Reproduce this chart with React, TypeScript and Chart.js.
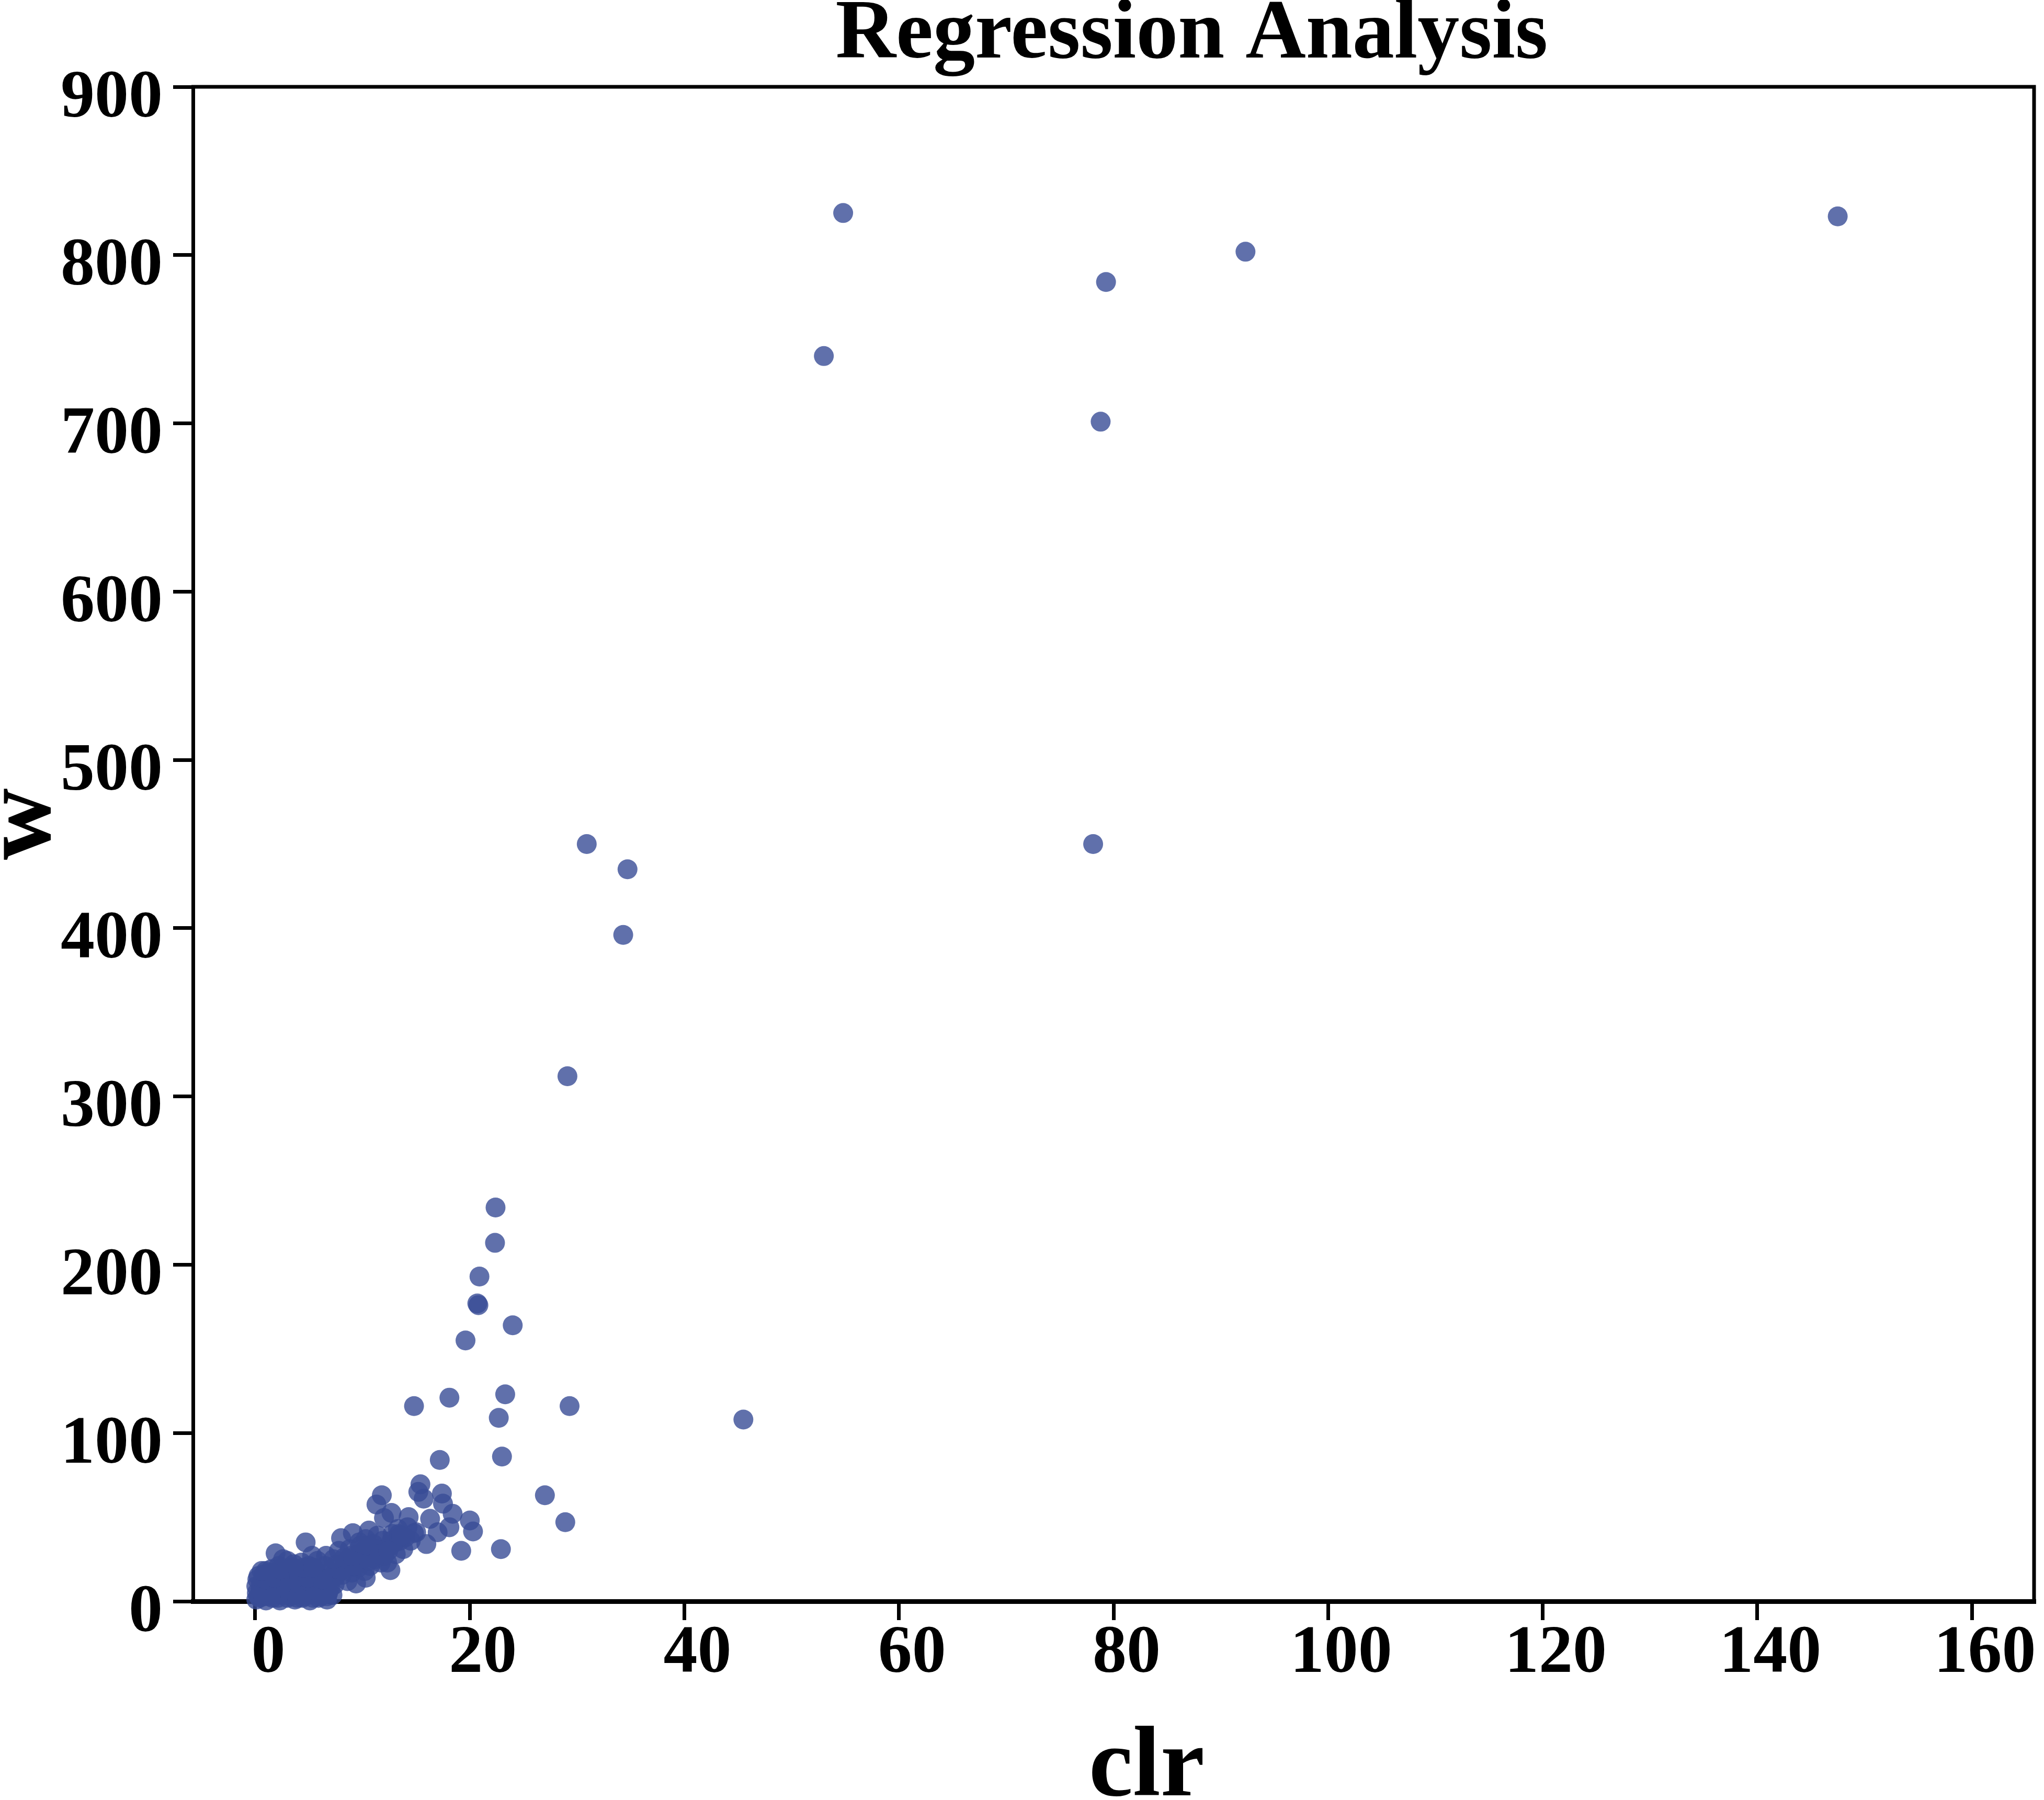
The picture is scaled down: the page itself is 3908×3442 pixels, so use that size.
import React, { useEffect, useRef } from "react";
import { Chart, registerables } from "chart.js";

Chart.register(...registerables);

const CHART_TITLE = "Regression Analysis";
const X_TITLE = "clr";
const Y_TITLE = "w";

const X_TICKS = [0, 20, 40, 60, 80, 100, 120, 140, 160];
const Y_TICKS = [0, 100, 200, 300, 400, 500, 600, 700, 800, 900];

// Far outliers
const clrOutliers = [147.5, 54.8, 53.0, 92.3, 79.3, 78.8, 78.1, 30.9, 34.7, 34.3, 29.1, 45.5, 29.3, 27.0, 28.9];
const wOutliers = [823, 825, 740, 802, 784, 701, 450, 450, 435, 396, 312, 108, 116, 63, 47];

// Middle scattered points
const clrMid = [22.4, 22.35, 20.9, 20.8, 20.7, 24.0, 19.6, 18.1, 14.8, 23.3, 22.7, 17.2, 23.0, 22.9, 19.2,
  15.4, 15.2, 15.7, 17.4, 17.5, 18.4, 16.3, 20.0, 20.3, 18.1, 17.0, 15.95, 11.8, 11.3, 12.7, 12.0, 14.3,
  14.8, 14.0, 13.4, 10.6, 9.1, 8.0, 4.7, 1.9, 12.3, 12.6, 10.3, 9.4, 8.1, 7.2];
const wMid = [234, 213, 193, 176, 177, 164, 155, 121, 116, 123, 109, 84, 86, 31, 30,
  69.5, 65, 61, 64, 58, 52, 49, 48, 41.5, 44, 41, 34, 63, 57.5, 52.5, 49.5, 50,
  40.5, 38, 40, 42, 40.5, 37.5, 35, 28.5, 23, 18.5, 14, 10.6, 15.6, 3.7];

// Rising band
const clrBand = [7.5, 7.6, 7.8, 8.3, 8.6, 8.7, 8.8, 9.0, 9.1, 9.5, 9.6, 9.8, 10.0, 10.2, 10.3, 10.4, 10.7,
  10.8, 11.0, 11.2, 11.4, 11.5, 11.7, 11.9, 12.1, 12.6, 12.8, 13.0, 13.1, 13.3, 13.5, 13.8, 14.2, 14.5, 15.0,
  7.4, 7.9, 8.4, 9.2, 9.9, 10.6, 11.3, 12.0, 12.7, 13.4, 8.9, 9.7, 10.5, 11.6, 12.4, 13.6];
const wBand = [15, 22, 30, 26, 12, 20, 31, 17, 24, 28, 20, 33, 25, 18, 37, 30, 21,
  27, 34, 25, 39, 30, 23, 36, 29, 33, 40, 35, 28, 43, 36, 31, 44, 36, 41,
  10, 18, 23, 21, 29, 24, 31, 27, 36, 38, 27, 35, 33, 28, 30, 39];

// Dense core near the origin
const clrCore = [0.1, 0.15, 0.1, 0.2, 0.4, 0.5, 0.6, 0.8, 0.9, 1.0, 1.1, 1.2, 1.3, 1.5, 1.6, 1.7, 1.8, 2.0,
  2.2, 2.3, 2.4, 2.5, 2.6, 2.8, 3.0, 3.1, 3.2, 3.4, 3.5, 3.7, 3.8, 3.9, 4.0, 4.2, 4.3, 4.4, 4.5, 4.6, 4.8,
  5.0, 5.1, 5.2, 5.3, 5.5, 5.6, 5.8, 5.9, 6.0, 6.2, 6.3, 6.5, 6.6, 6.7, 6.8, 6.9, 7.0, 7.2, 7.3, 3.0, 1.0,
  2.6, 5.3,
  0.3, 0.7, 1.4, 2.1, 2.7, 3.3, 3.9, 4.6, 5.4, 6.1, 6.7, 0.5, 1.2, 1.9, 2.9, 3.6, 4.4, 5.0, 5.8, 6.4, 7.0,
  0.3, 1.0, 1.8, 2.5, 3.3, 4.1, 4.9, 5.6, 6.3, 0.6, 1.5, 2.3, 3.6, 4.5, 5.4];
const wCore = [1, 5, 9, 13, 2, 7, 11, 16, 3, 0.5, 6, 10, 14, 19, 2, 7, 12, 16,
  21, 0.5, 4, 9, 13, 18, 2, 6, 11, 15, 20, 1, 5, 9, 13, 18, 23, 2, 7, 11, 16,
  21, 0.5, 4, 9, 13, 18, 24, 2, 6, 11, 16, 21, 27, 1, 5, 10, 14, 19, 25, 24, 18,
  25, 27,
  3, 4, 3, 2, 4, 3, 2, 3, 2, 3, 3, 9, 8, 10, 8, 11, 9, 12, 8, 10, 8,
  15, 13, 14, 16, 13, 15, 14, 15, 13, 18, 17, 19, 22, 20, 20];

const clrAll = [...clrOutliers, ...clrMid, ...clrBand, ...clrCore];
const wAll = [...wOutliers, ...wMid, ...wBand, ...wCore];

const FONT = '"Liberation Serif", "Times New Roman", serif';

export default function App() {
  const ref = useRef<HTMLCanvasElement | null>(null);

  useEffect(() => {
    document.body.style.margin = "0";
    document.body.style.overflow = "hidden";
    const canvas = ref.current;
    if (!canvas) return;

    const framePlugin = {
      id: "frame",
      afterDraw(chart: any) {
        const { ctx, chartArea } = chart;
        ctx.save();
        ctx.strokeStyle = "#000";
        ctx.lineWidth = 7;
        ctx.beginPath();
        ctx.moveTo(chartArea.left - 3, chartArea.top);
        ctx.lineTo(chartArea.right, chartArea.top);
        ctx.lineTo(chartArea.right, chartArea.bottom);
        ctx.stroke();

        ctx.fillStyle = "#000";
        ctx.textBaseline = "alphabetic";
        ctx.textAlign = "center";
        ctx.font = `bold 160px ${FONT}`;
        ctx.fillText(CHART_TITLE, chart.width * 0.583, 110);
        ctx.font = `bold 190px ${FONT}`;
        ctx.fillText(X_TITLE, chart.width * 0.561, 3433);
        ctx.translate(95, (chartArea.top + chartArea.bottom) / 2 - 38);
        ctx.rotate(-Math.PI / 2);
        ctx.fillText(Y_TITLE, 0, 0);
        ctx.restore();
      },
    };

    const points = clrAll.map((x, i) => ({ x, y: wAll[i] }));

    const chart = new Chart(canvas, {
      type: "scatter",
      data: {
        datasets: [
          {
            data: points,
            backgroundColor: "rgba(56,76,150,0.8)",
            borderWidth: 0,
            pointRadius: 19,
            pointHoverRadius: 19,
            clip: false,
          },
        ],
      },
      options: {
        responsive: false,
        devicePixelRatio: 1,
        animation: false,
        events: [],
        layout: { padding: { left: 0, top: 166, right: 14, bottom: 0 } },
        plugins: { legend: { display: false }, title: { display: false }, tooltip: { enabled: false } },
        scales: {
          x: {
            type: "linear",
            min: -5.8,
            max: 165.8,
            z: 1,
            afterFit: (s: any) => { s.height = 380; },
            afterBuildTicks: (s: any) => { s.ticks = X_TICKS.map((v) => ({ value: v })); },
            border: { display: true, color: "#000", width: 9 },
            grid: { display: true, drawOnChartArea: false, drawTicks: true, tickLength: 36, tickWidth: 7, lineWidth: 7, tickColor: "#000", color: "#000" },
            ticks: { color: "#000", padding: 0, labelOffset: 25, maxRotation: 0, font: { family: FONT, size: 130, weight: "bold", lineHeight: 1 } },
          },
          y: {
            type: "linear",
            min: 0,
            max: 900,
            z: 1,
            afterFit: (s: any) => { s.width = 369; },
            afterBuildTicks: (s: any) => { s.ticks = Y_TICKS.map((v) => ({ value: v })); },
            border: { display: true, color: "#000", width: 7 },
            grid: { display: true, drawOnChartArea: false, drawTicks: true, tickLength: 38, tickWidth: 7, lineWidth: 7, tickColor: "#000", color: "#000" },
            ticks: { color: "#000", padding: 20, labelOffset: 23, font: { family: FONT, size: 130, weight: "bold", lineHeight: 1 } },
          },
        },
      },
      plugins: [framePlugin],
    });

    return () => chart.destroy();
  }, []);

  return (
    <div style={{ width: 3908, height: 3442, background: "#fff" }}>
      <canvas ref={ref} width={3908} height={3442} style={{ display: "block" }} />
    </div>
  );
}
